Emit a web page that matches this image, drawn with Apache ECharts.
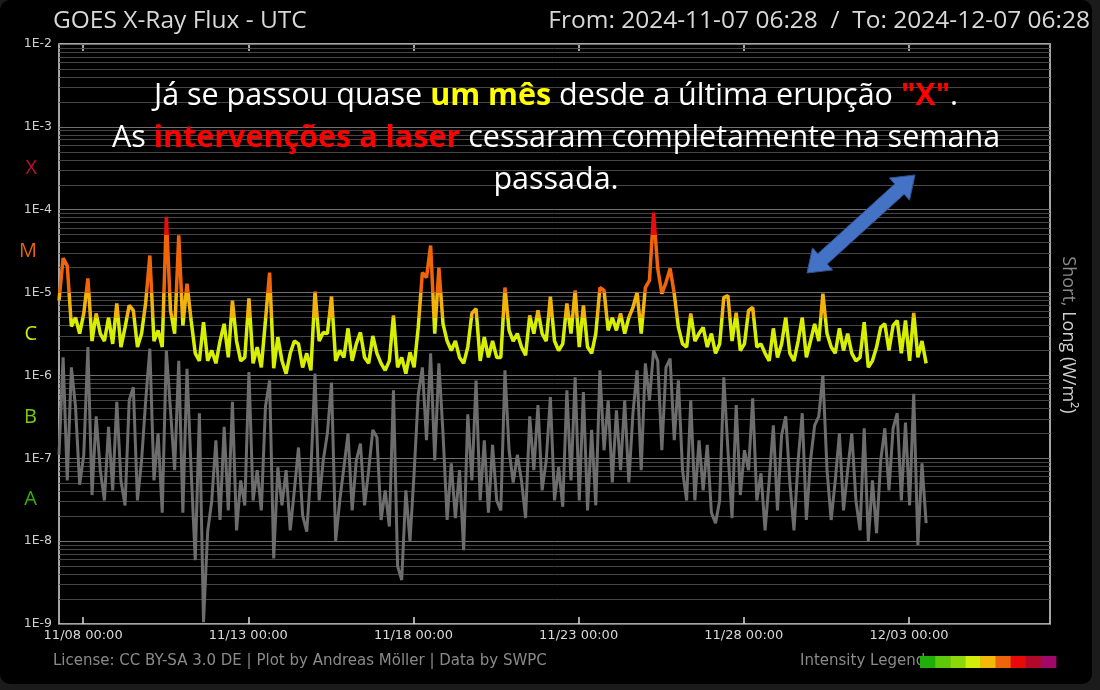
<!DOCTYPE html>
<html><head><meta charset="utf-8">
<script src="https://cdn.jsdelivr.net/npm/echarts@6/dist/echarts.min.js"></script>
<style>
html,body{margin:0;padding:0;background:#1b1b1b;width:1100px;height:690px;overflow:hidden}
#c{position:absolute;left:0;top:0;width:1092px;height:684px;background:#000;border-radius:10px;overflow:hidden}
</style></head><body><div id="c"></div>
<script>
// ---- data ----
const START = '2024-11-07T06:28:00Z';
const END = '2024-12-07T06:28:00Z';
const STEP_HOURS = 3;
const tickDates = ['2024-11-08T00:00:00Z','2024-11-13T00:00:00Z','2024-11-18T00:00:00Z','2024-11-23T00:00:00Z','2024-11-28T00:00:00Z','2024-12-03T00:00:00Z'];

// Long channel (1-8 Å), W/m², every 3 h
const longFlux = [
8.0e-6,2.6e-5,2.1e-5,3.9e-6,5.0e-6,3.2e-6,5.6e-6,1.48e-5,2.6e-6,5.6e-6,
3.2e-6,2.6e-6,5.0e-6,2.4e-6,7.4e-6,2.2e-6,3.8e-6,7.0e-6,6.1e-6,2.2e-6,
3.2e-6,7.6e-6,2.8e-5,2.6e-6,3.5e-6,2.2e-6,8.2e-5,6.1e-6,3.2e-6,4.9e-5,
4.0e-6,1.28e-5,4.6e-6,1.85e-6,1.5e-6,4.4e-6,1.5e-6,2.0e-6,1.4e-6,2.6e-6,
4.2e-6,1.65e-6,8.0e-6,2.6e-6,1.5e-6,1.65e-6,8.5e-6,1.4e-6,2.2e-6,1.25e-6,
4.6e-6,1.74e-5,1.22e-6,2.9e-6,1.5e-6,1.05e-6,1.85e-6,2.6e-6,2.4e-6,1.25e-6,
1.85e-6,1.15e-6,1.03e-5,2.6e-6,3.3e-6,3.2e-6,8.95e-6,1.5e-6,2.0e-6,1.65e-6,
3.7e-6,1.5e-6,2.4e-6,3.3e-6,1.65e-6,1.4e-6,3.0e-6,1.85e-6,1.4e-6,1.15e-6,
1.5e-6,5.3e-6,1.25e-6,1.65e-6,1.05e-6,1.9e-6,1.25e-6,3.8e-6,1.74e-5,1.52e-5,
3.7e-5,3.2e-6,2.0e-5,4.2e-6,2.6e-6,2.0e-6,2.6e-6,1.65e-6,1.4e-6,2.2e-6,
5.6e-6,6.4e-6,1.5e-6,2.9e-6,1.65e-6,2.6e-6,1.65e-6,1.65e-6,1.15e-5,3.5e-6,
2.6e-6,3.2e-6,2.2e-6,1.75e-6,5.3e-6,3.2e-6,6.1e-6,3.2e-6,2.6e-6,8.95e-6,
2.6e-6,2.0e-6,2.4e-6,7.4e-6,3.2e-6,1.06e-5,2.2e-6,7.0e-6,2.2e-6,1.85e-6,
3.2e-6,1.15e-5,1.06e-5,3.5e-6,5.0e-6,3.5e-6,5.6e-6,3.2e-6,5.0e-6,6.6e-6,
1.0e-5,3.2e-6,1.15e-5,1.4e-5,9.2e-5,1.95e-5,9.7e-6,1.32e-5,1.95e-5,9.7e-6,
3.8e-6,2.4e-6,2.2e-6,5.6e-6,2.6e-6,3.2e-6,3.8e-6,2.2e-6,3.2e-6,1.85e-6,
2.4e-6,8.7e-6,9.2e-6,2.6e-6,5.7e-6,2.0e-6,2.4e-6,6.1e-6,6.6e-6,2.2e-6,
2.4e-6,1.85e-6,1.5e-6,3.7e-6,1.65e-6,2.4e-6,5.0e-6,1.85e-6,1.5e-6,2.6e-6,
5.0e-6,1.65e-6,2.6e-6,4.2e-6,2.6e-6,9.7e-6,3.2e-6,2.2e-6,1.85e-6,3.7e-6,
2.0e-6,3.2e-6,1.85e-6,1.5e-6,1.65e-6,4.4e-6,1.25e-6,1.5e-6,2.2e-6,3.8e-6,
4.2e-6,2.0e-6,4.0e-6,4.6e-6,1.85e-6,4.6e-6,1.5e-6,5.7e-6,1.65e-6,2.6e-6,
1.4e-6];

// Short channel (0.5-4 Å), W/m², every 3 h
const shortFlux = [
1.1e-7,1.65e-6,5.4e-8,1.25e-6,4.2e-7,4.8e-8,1.1e-7,2.2e-6,3.6e-8,3.2e-7,
7.2e-8,3.1e-8,2.4e-7,4.1e-8,4.8e-7,5.4e-8,2.7e-8,5.0e-7,7.2e-7,3.1e-8,
9.4e-8,5.0e-7,2.1e-6,5.4e-8,2.0e-7,2.2e-8,2.0e-6,3.8e-7,7.2e-8,1.5e-6,
2.2e-8,1.2e-6,7.2e-8,5.9e-9,3.5e-7,1.05e-9,1.3e-8,3.1e-8,1.65e-7,1.8e-8,
2.4e-7,2.35e-8,4.8e-7,1.35e-8,5.4e-8,2.7e-8,1.1e-6,3.1e-8,7.2e-8,2.35e-8,
4.2e-7,8.7e-7,6.2e-9,7.8e-8,2.7e-8,7.2e-8,1.35e-8,4.1e-8,1.35e-7,2.05e-8,
1.3e-8,7.0e-8,1.05e-6,3.1e-8,9.4e-8,2.0e-7,8.2e-7,1.0e-8,3.1e-8,7.8e-8,
2.0e-7,2.35e-8,9.4e-8,1.5e-7,2.7e-8,7.2e-8,2.2e-7,1.8e-7,1.8e-8,4.1e-8,
1.5e-8,6.6e-7,5.0e-9,3.4e-9,4.1e-8,1.0e-8,6.6e-8,5.8e-7,1.25e-6,1.65e-7,
1.85e-6,9.4e-8,1.4e-6,2.0e-7,1.8e-8,8.7e-8,1.9e-8,7.2e-8,7.8e-9,3.4e-7,
5.4e-8,8.7e-7,3.1e-8,1.65e-7,2.2e-8,1.45e-7,3.1e-8,2.35e-8,1.15e-6,1.25e-7,
5.1e-8,1.1e-7,5.4e-8,1.9e-8,3.2e-7,7.2e-8,4.4e-7,4.1e-8,9.4e-8,5.5e-7,
3.1e-8,7.8e-8,2.6e-8,6.6e-7,5.4e-8,9.5e-7,3.1e-8,6.3e-7,2.35e-8,2.2e-7,
2.7e-8,1.15e-6,1.25e-7,5.0e-7,5.1e-8,3.8e-7,7.2e-8,5.0e-7,5.1e-8,3.5e-7,
1.15e-6,7.2e-8,1.4e-6,5.0e-7,2.0e-6,1.5e-6,1.25e-7,1.25e-6,1.6e-6,1.65e-7,
8.7e-7,7.2e-8,3.1e-8,5.0e-7,3.1e-8,1.65e-7,4.1e-8,1.45e-7,2.2e-8,1.65e-8,
3.1e-8,9.5e-7,1.25e-7,1.9e-8,4.4e-7,3.6e-8,1.25e-7,7.2e-8,5.3e-7,3.1e-8,
6.6e-8,1.35e-8,5.4e-8,2.5e-7,2.35e-8,1.9e-7,3.2e-7,5.1e-8,1.35e-8,9.4e-8,
3.5e-7,1.8e-8,9.4e-8,2.5e-7,3.2e-7,1.0e-6,7.2e-8,1.8e-8,5.4e-8,2.0e-7,
2.35e-8,7.2e-8,2.0e-7,3.1e-8,1.35e-8,2.3e-7,1.0e-8,5.4e-8,1.25e-8,9.4e-8,
2.3e-7,4.1e-8,2.3e-7,3.5e-7,3.1e-8,2.7e-7,2.7e-8,6.0e-7,9.0e-9,8.7e-8,
1.65e-8];

const decadeExponents = [-9,-8,-7,-6,-5,-4,-3,-2];
const minorMultipliers = [2,3,4,5,6,7,8,9];
const classLetters = ['X','M','C','B','A'];
const classLevels = [-3.5,-4.5,-5.5,-6.5,-7.5];
const classColors = ['#b8102c','#e8620c','#d4e80c','#7cc80c','#34b00c'];
const legendColors = ['#1fae0a','#5ec80a','#8cd80a','#d4ec0a','#f2b80a','#ee640a','#e60a0a','#b00a28','#a0086a'];
const fluxThresholds = [1e-6,5e-6,1e-5,5e-5,1e-4];
const fluxColors = ['#8cd80a','#d8f000','#f2b40a','#f0640a','#e80c0c','#b00a28'];

// ---- build ----
const t0 = Date.parse(START), t1 = Date.parse(END);
const stepMs = STEP_HOURS*3600*1000;
const longData = longFlux.map((v,i)=>[t0+i*stepMs, v]);
const shortData = shortFlux.map((v,i)=>[t0+i*stepMs, v]);
const tickValues = tickDates.map(d=>Date.parse(d));
// minor grid positions in log10 units (2..9 x 10^e)
const minorLevels = [];
decadeExponents.slice(0,-1).forEach(e=>minorMultipliers.forEach(k=>minorLevels.push(e+Math.log10(k))));
const pad = n => (n<10?'0':'')+n;
const fmtTime = v => { const d=new Date(v); return pad(d.getUTCMonth()+1)+'/'+pad(d.getUTCDate())+' '+pad(d.getUTCHours())+':'+pad(d.getUTCMinutes()); };

const pieces = [];
pieces.push({lt: fluxThresholds[0], color: fluxColors[0]});
for (let i=0;i<fluxThresholds.length-1;i++) pieces.push({gte: fluxThresholds[i], lt: fluxThresholds[i+1], color: fluxColors[i+1]});
pieces.push({gte: fluxThresholds[fluxThresholds.length-1], color: fluxColors[fluxColors.length-1]});

const letterRich = {};
classLetters.forEach((l,i)=>{ letterRich['l'+i] = {color: classColors[i], fontSize: 20, fontFamily: 'Open Sans'}; });

const chart = echarts.init(document.getElementById('c'), null, {renderer:'canvas'});
const W = 1092;

// arrow geometry (decoration)
const arrowTail=[807,273], arrowHead=[915,175];
function arrowPoints(){
  const dx=arrowHead[0]-arrowTail[0], dy=arrowHead[1]-arrowTail[1];
  const L=Math.hypot(dx,dy), ux=dx/L, uy=dy/L, nx=-uy, ny=ux;
  const hl=21, hw=15, sw=7;
  const hb=[arrowHead[0]-hl*ux, arrowHead[1]-hl*uy], tb=[arrowTail[0]+hl*ux, arrowTail[1]+hl*uy];
  const p=(b,s)=>[b[0]+s*nx, b[1]+s*ny];
  return [arrowHead, p(hb,hw), p(hb,sw), p(tb,sw), p(tb,hw), arrowTail, p(tb,-hw), p(tb,-sw), p(hb,-sw), p(hb,-hw)];
}

const graphics = [
  {type:'text', x:53, y:21, style:{text:'GOES X-Ray Flux - UTC', fill:'#d8d8d8', fontSize:24.5, fontFamily:'Open Sans', verticalAlign:'middle'}},
  {type:'text', x:1090, y:21, style:{text:'From: 2024-11-07 06:28  /  To: 2024-12-07 06:28', fill:'#d8d8d8', fontSize:24.5, fontFamily:'Open Sans', align:'right', verticalAlign:'middle'}},
  {type:'text', x:53, y:661, style:{text:'License: CC BY-SA 3.0 DE | Plot by Andreas Möller | Data by SWPC', fill:'#8a8a8a', fontSize:15, fontFamily:'DejaVu Sans', verticalAlign:'middle'}},
  {type:'text', x:800, y:661, style:{text:'Intensity Legend', fill:'#8a8a8a', fontSize:15, fontFamily:'DejaVu Sans', verticalAlign:'middle'}},
  {type:'text', x:1068, y:335, rotation:-Math.PI/2, style:{text:'{g|Short,} Long (W/m²)', fill:'#cfcfcf', fontSize:18, fontFamily:'Open Sans', align:'center', verticalAlign:'middle', rich:{g:{fill:'#8a8a8a', fontSize:18, fontFamily:'Open Sans'}}}},
  {type:'text', x:556, y:75, z:50, style:{
    text:'Já se passou quase {y|um mês} desde a última erupção {r|"X"}.\nAs {r|intervenções a laser} cessaram completamente na semana\npassada.',
    fill:'#ffffff', fontSize:30.5, fontFamily:'Open Sans', align:'center', verticalAlign:'top', lineHeight:42,
    rich:{y:{fill:'#ffff00', fontWeight:'bold', fontSize:30.5, fontFamily:'Open Sans', lineHeight:42},
          r:{fill:'#ff0000', fontWeight:'bold', fontSize:30.5, fontFamily:'Open Sans', lineHeight:42}}}},
  {type:'polygon', z:50, shape:{points: arrowPoints()}, style:{fill:'#4472c4', stroke:'#2f528f', lineWidth:1}}
];
legendColors.forEach((c,i)=>graphics.push({type:'rect', z:60, shape:{x:920+i*15.1, y:656, width:15.6, height:12}, style:{fill:c}}));

chart.setOption({
  animation:false,
  backgroundColor:'transparent',
  grid:{left:59, right:W-1050, top:44, bottom:684-624, show:true, borderColor:'#dcdcdc', borderWidth:1.5, containLabel:false},
  xAxis:[
    {type:'value', min:t0, max:t1, position:'bottom',
     axisLine:{show:false}, splitLine:{show:false},
     axisTick:{show:true, inside:true, length:7, customValues:tickValues, lineStyle:{color:'#dcdcdc', width:1.5}},
     axisLabel:{customValues:tickValues, formatter:fmtTime, color:'#d8d8d8', fontSize:13, fontFamily:'DejaVu Sans', margin:5}},
    {type:'value', min:t0, max:t1, position:'top',
     axisLine:{show:false}, splitLine:{show:false},
     axisTick:{show:true, inside:true, length:7, customValues:tickValues, lineStyle:{color:'#dcdcdc', width:1.5}},
     axisLabel:{show:false}}
  ],
  yAxis:[
    {type:'log', logBase:10, min:1e-9, max:1e-2, splitNumber:7, z:2,
     axisLine:{show:false}, axisTick:{show:false},
     splitLine:{show:true, lineStyle:{color:'#707070', width:1}},
     axisLabel:{formatter:v=>'1E'+Math.round(Math.log10(v)), color:'#cfcfcf', fontSize:12.5, fontFamily:'DejaVu Sans', margin:7}},
    {type:'value', min:-9, max:-2, position:'left',
     axisLine:{show:false}, axisTick:{show:false}, splitLine:{show:false},
     axisLabel:{margin:22, customValues:classLevels, formatter:v=>{const i=classLevels.indexOf(v); return i<0?'':'{l'+i+'|'+classLetters[i]+'}';}, rich:letterRich}},
    {type:'value', min:-9, max:-2, position:'right', z:1,
     axisLine:{show:false}, axisLabel:{show:false},
     axisTick:{show:false, customValues:minorLevels},
     splitLine:{show:true, lineStyle:{color:'#464646', width:1}}}
  ],
  visualMap:{type:'piecewise', show:false, seriesIndex:1, dimension:1, pieces:pieces},
  series:[
    {name:'Short', type:'line', data:shortData, showSymbol:false, z:10,
     lineStyle:{color:'#6d6d6d', width:3}, itemStyle:{color:'#6d6d6d'}},
    {name:'Long', type:'line', data:longData, showSymbol:false, z:11,
     lineStyle:{width:3.5}}
  ],
  graphic:graphics
});
</script></body></html>
